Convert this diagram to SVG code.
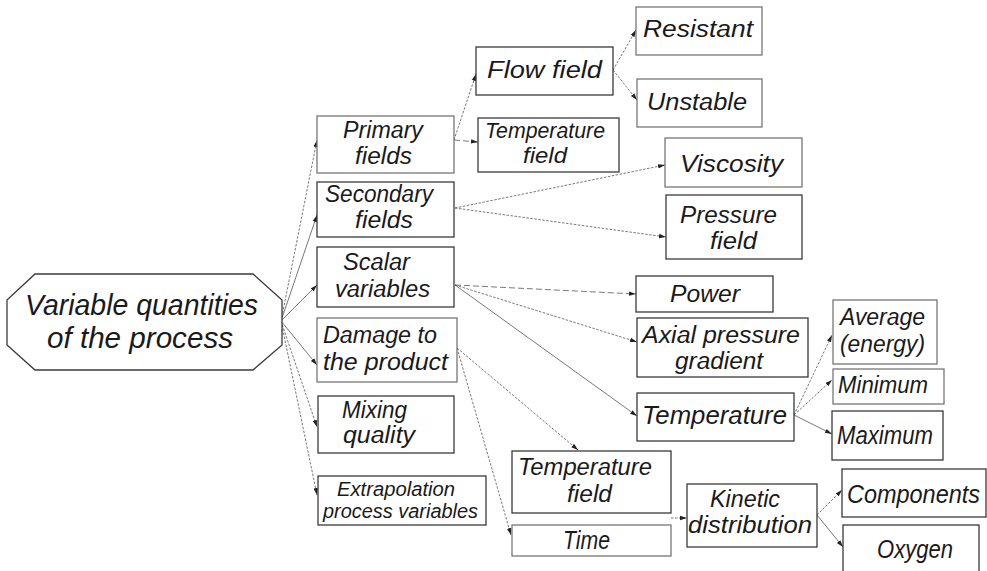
<svg xmlns="http://www.w3.org/2000/svg" width="987" height="571" viewBox="0 0 987 571">
  <style>
    .box { fill: #ffffff; stroke: #3a3a3a; stroke-width: 1.3; }
    .lt { stroke: #777777; }
    .t { font-family: "Liberation Sans", Arial, sans-serif; font-style: italic; font-size: 23px; fill: #1a1a1a; }
    .big { font-size: 30px; }
    .md { font-size: 22px; }
    .sm { font-size: 20px; }
    .lg { font-size: 25px; }
    .c { fill: none; stroke: #555555; stroke-width: 0.8; marker-end: url(#ah); }
    .d { stroke-dasharray: 2.5 1.5; }
    .ld { stroke-dasharray: 6 3; }
  </style>
  <defs>
    <marker id="ah" markerUnits="userSpaceOnUse" markerWidth="8" markerHeight="6" refX="7" refY="3" orient="auto">
      <path d="M0,0.8 L7,3 L0,5.2 Z" fill="#222222"/>
    </marker>
  </defs>
  <rect width="987" height="571" fill="#ffffff"/>

  <!-- connectors -->
  <g id="connectors">
    <path class="c d" d="M281,321 L317,140"/>
    <path class="c" d="M281,321 L317,215"/>
    <path class="c" d="M281,321 L317,285"/>
    <path class="c" d="M281,321 L317,365"/>
    <path class="c d" d="M281,321 L317,427"/>
    <path class="c d" d="M281,321 L317,495"/>

    <path class="c d" d="M454,140 L476,74"/>
    <path class="c ld" d="M454,140 L478,142"/>
    <path class="c d" d="M613,70 L636,30"/>
    <path class="c d" d="M613,70 L637,100"/>

    <path class="c d" d="M455,208 L665,165"/>
    <path class="c d" d="M455,208 L666,237"/>

    <path class="c ld" d="M455,285 L636,294"/>
    <path class="c d" d="M455,285 L637,342"/>
    <path class="c" d="M455,285 L637,416"/>

    <path class="c d" d="M457,348 L578,450"/>
    <path class="c d" d="M457,348 L511,535"/>

    <path class="c d" d="M671,518 L687,518"/>

    <path class="c d" d="M794,415 L832,335"/>
    <path class="c d" d="M794,415 L832,380"/>
    <path class="c" d="M794,415 L832,434"/>

    <path class="c d" d="M817,515 L842,490"/>
    <path class="c" d="M817,515 L843,547"/>
  </g>

  <!-- root node -->
  <g id="root">
    <polygon class="box" points="35,274 253,274 282,300 282,345 253,370 35,370 7,345 7,300"/>
    <text class="t big" x="25" y="315" textLength="233" lengthAdjust="spacingAndGlyphs">Variable quantities</text>
    <text class="t big" x="47" y="348" textLength="186" lengthAdjust="spacingAndGlyphs">of the process</text>
  </g>

  <!-- first level -->
  <g id="primary-fields">
    <rect class="box lt" x="317" y="116" width="137" height="57"/>
    <text class="t" x="343" y="138" textLength="80" lengthAdjust="spacingAndGlyphs">Primary</text>
    <text class="t" x="355" y="164" textLength="57" lengthAdjust="spacingAndGlyphs">fields</text>
  </g>
  <g id="secondary-fields">
    <rect class="box" x="317" y="182" width="137" height="55"/>
    <text class="t" x="325" y="202" textLength="108" lengthAdjust="spacingAndGlyphs">Secondary</text>
    <text class="t" x="355" y="228" textLength="58" lengthAdjust="spacingAndGlyphs">fields</text>
  </g>
  <g id="scalar-variables">
    <rect class="box" x="317" y="247" width="137" height="60"/>
    <text class="t" x="343" y="270" textLength="67" lengthAdjust="spacingAndGlyphs">Scalar</text>
    <text class="t" x="335" y="297" textLength="95" lengthAdjust="spacingAndGlyphs">variables</text>
  </g>
  <g id="damage">
    <rect class="box lt" x="317" y="318" width="140" height="64"/>
    <text class="t" x="323" y="343" textLength="114" lengthAdjust="spacingAndGlyphs">Damage to</text>
    <text class="t" x="323" y="370" textLength="125" lengthAdjust="spacingAndGlyphs">the product</text>
  </g>
  <g id="mixing-quality">
    <rect class="box" x="318" y="396" width="136" height="57"/>
    <text class="t" x="342" y="418" textLength="65" lengthAdjust="spacingAndGlyphs">Mixing</text>
    <text class="t" x="343" y="443" textLength="72" lengthAdjust="spacingAndGlyphs">quality</text>
  </g>
  <g id="extrapolation">
    <rect class="box" x="318" y="476" width="168" height="49"/>
    <text class="t sm" x="337" y="496" textLength="118" lengthAdjust="spacingAndGlyphs">Extrapolation</text>
    <text class="t sm" x="323" y="518" textLength="155" lengthAdjust="spacingAndGlyphs">process variables</text>
  </g>

  <!-- second level -->
  <g id="flow-field">
    <rect class="box" x="476" y="47" width="137" height="48"/>
    <text class="t" x="487" y="78" textLength="115" lengthAdjust="spacingAndGlyphs">Flow field</text>
  </g>
  <g id="temperature-field-top">
    <rect class="box" x="478" y="118" width="141" height="54"/>
    <text class="t md" x="485" y="138" textLength="120" lengthAdjust="spacingAndGlyphs">Temperature</text>
    <text class="t md" x="523" y="163" textLength="44" lengthAdjust="spacingAndGlyphs">field</text>
  </g>
  <g id="resistant">
    <rect class="box lt" x="636" y="7" width="126" height="48"/>
    <text class="t" x="643" y="37" textLength="110" lengthAdjust="spacingAndGlyphs">Resistant</text>
  </g>
  <g id="unstable">
    <rect class="box lt" x="637" y="79" width="125" height="48"/>
    <text class="t" x="647" y="110" textLength="100" lengthAdjust="spacingAndGlyphs">Unstable</text>
  </g>
  <g id="viscosity">
    <rect class="box lt" x="665" y="138" width="137" height="49"/>
    <text class="t" x="680" y="172" textLength="103" lengthAdjust="spacingAndGlyphs">Viscosity</text>
  </g>
  <g id="pressure-field">
    <rect class="box" x="666" y="195" width="136" height="64"/>
    <text class="t" x="680" y="223" textLength="97" lengthAdjust="spacingAndGlyphs">Pressure</text>
    <text class="t" x="710" y="249" textLength="47" lengthAdjust="spacingAndGlyphs">field</text>
  </g>
  <g id="power">
    <rect class="box" x="636" y="276" width="137" height="36"/>
    <text class="t" x="670" y="302" textLength="70" lengthAdjust="spacingAndGlyphs">Power</text>
  </g>
  <g id="axial-pressure-gradient">
    <rect class="box" x="637" y="318" width="171" height="59"/>
    <text class="t" x="642" y="343" textLength="158" lengthAdjust="spacingAndGlyphs">Axial pressure</text>
    <text class="t" x="675" y="369" textLength="88" lengthAdjust="spacingAndGlyphs">gradient</text>
  </g>
  <g id="temperature">
    <rect class="box" x="637" y="393" width="157" height="48"/>
    <text class="t lg" x="642" y="424" textLength="145" lengthAdjust="spacingAndGlyphs">Temperature</text>
  </g>
  <g id="average">
    <rect class="box lt" x="833" y="300" width="104" height="64"/>
    <text class="t" x="840" y="325" textLength="85" lengthAdjust="spacing">Average</text>
    <text class="t" x="840" y="352" textLength="85" lengthAdjust="spacingAndGlyphs">(energy)</text>
  </g>
  <g id="minimum">
    <rect class="box lt" x="833" y="369" width="111" height="35"/>
    <text class="t" x="838" y="393" textLength="90" lengthAdjust="spacingAndGlyphs">Minimum</text>
  </g>
  <g id="maximum">
    <rect class="box" x="832" y="411" width="111" height="49"/>
    <text class="t lg" x="837" y="444" textLength="96" lengthAdjust="spacingAndGlyphs">Maximum</text>
  </g>

  <!-- damage branch -->
  <g id="temperature-field-low">
    <rect class="box" x="512" y="451" width="159" height="62"/>
    <text class="t" x="518" y="475" textLength="134" lengthAdjust="spacingAndGlyphs">Temperature</text>
    <text class="t" x="567" y="502" textLength="45" lengthAdjust="spacingAndGlyphs">field</text>
  </g>
  <g id="time">
    <rect class="box lt" x="512" y="525" width="159" height="31"/>
    <text class="t lg" x="563" y="549" textLength="47" lengthAdjust="spacingAndGlyphs">Time</text>
  </g>
  <g id="kinetic-distribution">
    <rect class="box" x="687" y="484" width="130" height="63"/>
    <text class="t" x="710" y="507" textLength="70" lengthAdjust="spacingAndGlyphs">Kinetic</text>
    <text class="t" x="688" y="533" textLength="124" lengthAdjust="spacingAndGlyphs">distribution</text>
  </g>
  <g id="components">
    <rect class="box" x="842" y="469" width="144" height="48"/>
    <text class="t lg" x="847" y="503" textLength="133" lengthAdjust="spacingAndGlyphs">Components</text>
  </g>
  <g id="oxygen">
    <rect class="box" x="843" y="525" width="136" height="48"/>
    <text class="t lg" x="877" y="558" textLength="76" lengthAdjust="spacingAndGlyphs">Oxygen</text>
  </g>
</svg>
